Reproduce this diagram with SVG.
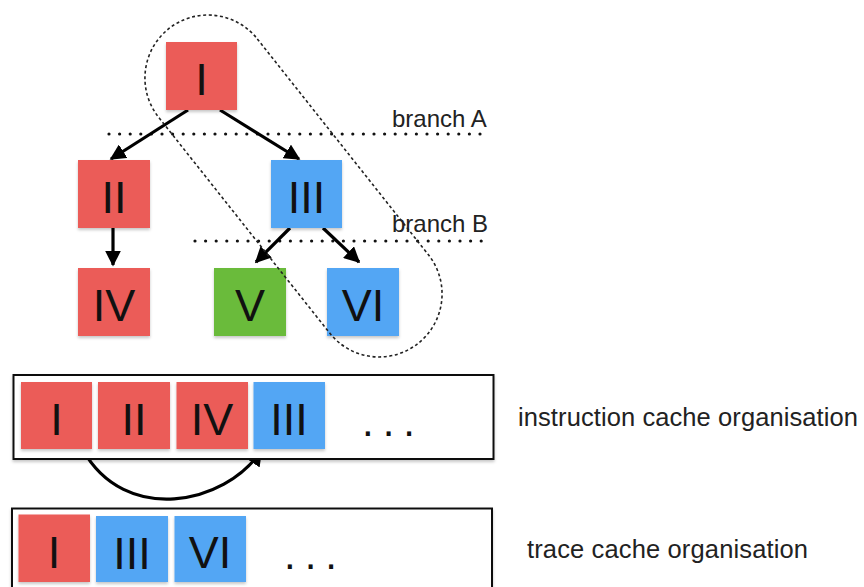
<svg xmlns="http://www.w3.org/2000/svg" width="864" height="587" viewBox="0 0 864 587">
<style>
.red{fill:#EB5B58}
.blue{fill:#52A6F4}
.green{fill:#6BBB3B}
.cell{filter:url(#sh)}
.num{font-family:"Liberation Sans",Arial,sans-serif;font-size:45px;fill:#111;text-anchor:middle}
.lbl{font-family:"Liberation Sans",Arial,sans-serif;fill:#222}
.dots{font-family:"Liberation Sans",Arial,sans-serif;font-size:42px;fill:#111;letter-spacing:9px}
.box{fill:#fff;stroke:#111;stroke-width:2;filter:url(#sh)}
.edge{stroke:#000;stroke-width:3.2;fill:none;marker-end:url(#ah)}
.dotline{stroke:#111;stroke-width:3.2;stroke-linecap:round;stroke-dasharray:0 10.6;fill:none}
</style>
<defs>
<filter id="sh" x="-10%" y="-10%" width="120%" height="130%">
<feDropShadow dx="0" dy="2" stdDeviation="1.5" flood-color="#000" flood-opacity="0.22"/>
</filter>
<marker id="ah" viewBox="0 0 10 10" refX="9" refY="5" markerUnits="userSpaceOnUse" markerWidth="16" markerHeight="16" orient="auto">
<path d="M0,0 L10,5 L0,10 z" fill="#000"/>
</marker>
</defs>
<rect width="864" height="587" fill="#fff"/>

<g id="branch-lines">
<line class="dotline" x1="109" y1="134" x2="490" y2="134"/>
<text class="lbl" x="392" y="127" font-size="24">branch A</text>
<line class="dotline" x1="195" y1="241" x2="490" y2="241"/>
<text class="lbl" x="392" y="232" font-size="24">branch B</text>
</g>

<g id="connectors">
<path class="edge" d="M188,110 L111,159"/>
<path class="edge" d="M220,110 L299,159"/>
<path class="edge" d="M113,228 L113,265"/>
<path class="edge" d="M290,228 L256,262"/>
<path class="edge" d="M323,228 L359,262"/>
<path class="edge" d="M83,450 C125,525 225,505 261,451"/>
</g>

<g id="node-I"><rect class="red cell" x="166" y="42" width="71" height="68"/><text class="num" x="201.5" y="95">I</text></g>
<g id="node-II"><rect class="red cell" x="78" y="160" width="72" height="68"/><text class="num" x="114" y="213">II</text></g>
<g id="node-III"><rect class="blue cell" x="271" y="160" width="71" height="68"/><text class="num" x="306.5" y="213">III</text></g>
<g id="node-IV"><rect class="red cell" x="78" y="268" width="72" height="68"/><text class="num" x="114" y="321">IV</text></g>
<g id="node-V"><rect class="green cell" x="214" y="268" width="72" height="68"/><text class="num" x="250" y="321">V</text></g>
<g id="node-VI"><rect class="blue cell" x="327" y="268" width="72" height="68"/><text class="num" x="363" y="321">VI</text></g>

<g id="trace-outline">
<rect x="-200.75" y="-63" width="401.5" height="126" rx="63" fill="none" stroke="#222" stroke-width="1.6" stroke-dasharray="3 2.6" transform="translate(293.5,186) rotate(51.6)"/>
</g>

<g id="instruction-cache">
<rect class="box" x="13.5" y="375" width="480" height="84"/>
<rect class="red cell" x="21" y="382" width="71" height="67"/><text class="num" x="56.5" y="435">I</text>
<rect class="red cell" x="98" y="382" width="72" height="67"/><text class="num" x="134" y="435">II</text>
<rect class="red cell" x="176.5" y="382" width="71.5" height="67"/><text class="num" x="212" y="435">IV</text>
<rect class="blue cell" x="253.5" y="382" width="71.5" height="67"/><text class="num" x="289" y="435">III</text>
<text class="dots" x="362" y="436">...</text>
</g>
<text id="label-instruction" class="lbl" x="518" y="426" font-size="25.5" textLength="340">instruction cache organisation</text>

<g id="trace-cache">
<rect class="box" x="12" y="508.5" width="480" height="100"/>
<rect class="red cell" x="18.5" y="514.5" width="71.5" height="67.5"/><text class="num" x="54" y="568">I</text>
<rect class="blue cell" x="96" y="516" width="72" height="66"/><text class="num" x="132" y="569">III</text>
<rect class="blue cell" x="174.5" y="516" width="71.5" height="66"/><text class="num" x="210" y="568">VI</text>
<text class="dots" x="284" y="569">...</text>
</g>
<text id="label-trace" class="lbl" x="527" y="558" font-size="25.5" textLength="281">trace cache organisation</text>
</svg>
